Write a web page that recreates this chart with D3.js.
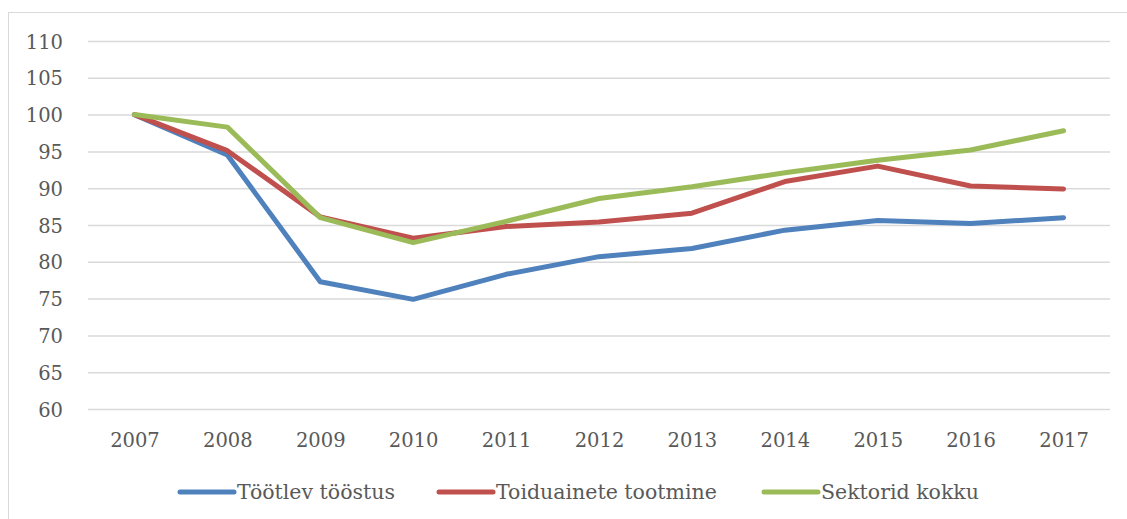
<!DOCTYPE html>
<html>
<head>
<meta charset="utf-8">
<script src="https://cdn.jsdelivr.net/npm/d3@7"></script>
<style>
  html, body { margin: 0; padding: 0; background: #fff; }
  svg { display: block; }
</style>
</head>
<body>
<svg id="chart" width="1127" height="519"></svg>
<script>
const years = ["2007","2008","2009","2010","2011","2012","2013","2014","2015","2016","2017"];
const seriesNames = ["Töötlev tööstus", "Toiduainete tootmine", "Sektorid kokku"];
const toostus = [100, 94.5, 77.3, 74.9, 78.3, 80.7, 81.8, 84.3, 85.6, 85.2, 86.0];
const toiduained = [100, 95.1, 86.1, 83.2, 84.8, 85.4, 86.6, 90.9, 93.0, 90.3, 89.9];
const kokku = [100, 98.3, 86.0, 82.6, 85.5, 88.6, 90.2, 92.1, 93.8, 95.2, 97.8];
const yTicks = [60, 65, 70, 75, 80, 85, 90, 95, 100, 105, 110];
const colors = ["#4f81bd", "#c0504d", "#9bbb59"];

const FONT = "'DejaVu Serif', 'Liberation Serif', serif";
const svg = d3.select("#chart");

// chart border
svg.append("rect")
  .attr("x", 8.5).attr("y", 12.5)
  .attr("width", 1140).attr("height", 520)
  .attr("fill", "none").attr("stroke", "#d9d9d9").attr("stroke-width", 1);

const plot = { left: 88, right: 1110, top: 41, bottom: 409 };

const x = d3.scalePoint().domain(years).range([plot.left, plot.right]).padding(0.5);
const y = d3.scaleLinear().domain([60, 110]).range([plot.bottom, plot.top]);

// gridlines + y labels
const yAxis = d3.axisLeft(y).tickValues(yTicks).tickSize(-(plot.right - plot.left)).tickPadding(25);
const gy = svg.append("g").attr("transform", `translate(${plot.left},0)`).call(yAxis);
gy.attr("font-family", null);
gy.select(".domain").remove();
gy.selectAll(".tick line").attr("stroke", "#d9d9d9").attr("stroke-width", 1.5);
gy.selectAll(".tick text").style("font-family", FONT).style("font-size", "19.5px")
  .attr("fill", "#595959").attr("dy", "0.36em");

// x axis labels
const xAxis = d3.axisBottom(x).tickSize(0).tickPadding(0);
const gx = svg.append("g").attr("transform", `translate(0,${plot.bottom})`).call(xAxis);
gx.attr("font-family", null);
gx.select(".domain").remove();
gx.selectAll(".tick text").style("font-family", FONT).style("font-size", "19.5px")
  .attr("fill", "#595959").attr("dy", null).attr("y", 38);

// lines
const data = [toostus, toiduained, kokku];
const line = d3.line().x((d, i) => x(years[i])).y(d => y(d));
svg.append("g").selectAll("path").data(data).join("path")
  .attr("d", line)
  .attr("fill", "none")
  .attr("stroke", (d, i) => colors[i])
  .attr("stroke-width", 5)
  .attr("stroke-linejoin", "round")
  .attr("stroke-linecap", "round");

// legend
const legendX = [180, 439, 764];
const lg = svg.append("g").selectAll("g").data(seriesNames).join("g")
  .attr("transform", (d, i) => `translate(${legendX[i]},492)`);
lg.append("line").attr("x1", 0).attr("x2", 54).attr("y1", 0).attr("y2", 0)
  .attr("stroke", (d, i) => colors[i]).attr("stroke-width", 5).attr("stroke-linecap", "round");
lg.append("text").attr("x", 57).attr("y", 7)
  .style("font-family", FONT).style("font-size", "20.5px").attr("fill", "#595959")
  .text(d => d);
</script>
</body>
</html>
